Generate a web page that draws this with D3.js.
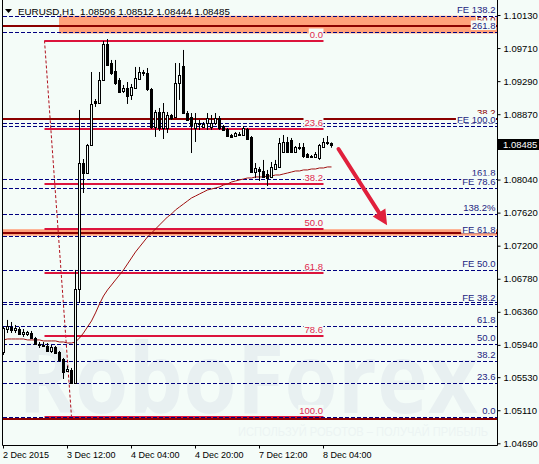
<!DOCTYPE html>
<html><head><meta charset="utf-8">
<script src="https://cdn.jsdelivr.net/npm/d3@7"></script>
<style>html,body{margin:0;padding:0;background:#f4fcf8;}svg{display:block;}</style>
</head><body><svg id="c" width="539" height="464"></svg>
<script>
// ---------------- DATA ----------------
const chartTitle = "EURUSD,H1  1.08506 1.08512 1.08444 1.08485";
const lastPrice = 1.08485;
const timeLabels = ["2 Dec 2015", "3 Dec 12:00", "4 Dec 04:00", "4 Dec 20:00", "7 Dec 12:00", "8 Dec 04:00"];
const timeLabelBars = [0, 16, 32, 48, 64, 80];
const priceTicks = [1.10130, 1.09710, 1.09290, 1.08870, 1.08040, 1.07620, 1.07200, 1.06780, 1.06360, 1.05940, 1.05530, 1.05110, 1.04690];

const open = [1.05850, 1.06142, 1.06168, 1.06130, 1.06142, 1.06079, 1.06079, 1.06091, 1.06028, 1.05952,
 1.05939, 1.05926, 1.05863, 1.05914, 1.05850, 1.05761, 1.05609, 1.05622, 1.05456, 1.06650,
 1.08250, 1.08123, 1.08479, 1.09038, 1.09012, 1.09305, 1.09762, 1.09520, 1.09419, 1.09305,
 1.09165, 1.09203, 1.09114, 1.09203, 1.09317, 1.09393, 1.09393, 1.09190, 1.08708, 1.08898,
 1.08695, 1.08695, 1.08860, 1.08835, 1.09266, 1.09482, 1.08885, 1.08835, 1.08695, 1.08746,
 1.08708, 1.08758, 1.08708, 1.08758, 1.08822, 1.08720, 1.08682, 1.08606, 1.08593, 1.08619,
 1.08606, 1.08682, 1.08581, 1.08136, 1.08174, 1.08149, 1.08111, 1.08073, 1.08174, 1.08200,
 1.08390, 1.08517, 1.08543, 1.08390, 1.08454, 1.08454, 1.08365, 1.08339, 1.08327, 1.08314,
 1.08454, 1.08517, 1.08506];
const high = [1.06168, 1.06257, 1.06231, 1.06193, 1.06168, 1.06142, 1.06117, 1.06117, 1.06041, 1.05977,
 1.05977, 1.05964, 1.05939, 1.05926, 1.05863, 1.05774, 1.05672, 1.05647, 1.06892, 1.08924,
 1.08301, 1.08492, 1.09406, 1.09063, 1.09406, 1.09800, 1.09825, 1.09559, 1.09559, 1.09330,
 1.09241, 1.09279, 1.09254, 1.09470, 1.09470, 1.09432, 1.09457, 1.09203, 1.08924, 1.08949,
 1.09012, 1.08898, 1.08873, 1.09520, 1.09520, 1.09686, 1.08911, 1.08885, 1.08885, 1.08797,
 1.08771, 1.08885, 1.08860, 1.08885, 1.08847, 1.08733, 1.08695, 1.08619, 1.08644, 1.08644,
 1.08720, 1.08695, 1.08593, 1.08250, 1.08200, 1.08289, 1.08162, 1.08263, 1.08289, 1.08568,
 1.08606, 1.08581, 1.08568, 1.08466, 1.08504, 1.08504, 1.08377, 1.08352, 1.08390, 1.08492,
 1.08568, 1.08593, 1.08512];
const low = [1.05812, 1.06091, 1.06091, 1.06091, 1.06066, 1.06041, 1.06053, 1.06015, 1.05939, 1.05901,
 1.05914, 1.05850, 1.05837, 1.05825, 1.05723, 1.05507, 1.05596, 1.05444, 1.05444, 1.06472,
 1.07869, 1.08111, 1.08466, 1.08962, 1.09000, 1.09292, 1.09482, 1.09368, 1.09241, 1.09139,
 1.09139, 1.09000, 1.09051, 1.09190, 1.09305, 1.09355, 1.09165, 1.08682, 1.08581, 1.08657,
 1.08555, 1.08631, 1.08797, 1.08822, 1.09051, 1.08873, 1.08784, 1.08377, 1.08517, 1.08670,
 1.08695, 1.08670, 1.08670, 1.08733, 1.08670, 1.08657, 1.08581, 1.08568, 1.08581, 1.08593,
 1.08593, 1.08543, 1.08123, 1.08060, 1.08022, 1.08060, 1.07958, 1.08060, 1.08162, 1.08200,
 1.08377, 1.08377, 1.08377, 1.08377, 1.08416, 1.08314, 1.08314, 1.08314, 1.08314, 1.08289,
 1.08441, 1.08479, 1.08444];
const close = [1.06155, 1.06180, 1.06130, 1.06155, 1.06079, 1.06104, 1.06104, 1.06028, 1.05952, 1.05939,
 1.05926, 1.05863, 1.05914, 1.05837, 1.05749, 1.05596, 1.05634, 1.05456, 1.06650, 1.08250,
 1.08123, 1.08479, 1.09000, 1.09012, 1.09305, 1.09762, 1.09495, 1.09393, 1.09266, 1.09152,
 1.09203, 1.09101, 1.09216, 1.09330, 1.09406, 1.09406, 1.09190, 1.08708, 1.08898, 1.08695,
 1.08898, 1.08860, 1.08822, 1.09266, 1.09368, 1.08885, 1.08797, 1.08733, 1.08758, 1.08758,
 1.08746, 1.08822, 1.08758, 1.08822, 1.08695, 1.08670, 1.08593, 1.08581, 1.08631, 1.08606,
 1.08695, 1.08555, 1.08136, 1.08187, 1.08149, 1.08073, 1.08060, 1.08200, 1.08238, 1.08504,
 1.08517, 1.08390, 1.08390, 1.08454, 1.08441, 1.08339, 1.08327, 1.08327, 1.08365, 1.08479,
 1.08517, 1.08504, 1.08485];
const movingAverage = [1.06003, 1.06015, 1.06015, 1.06015, 1.06015, 1.06015, 1.06003, 1.06003, 1.06003, 1.06003,
 1.05990, 1.05990, 1.05990, 1.05990, 1.05977, 1.05977, 1.05964, 1.05964, 1.05977, 1.06028,
 1.06091, 1.06168, 1.06244, 1.06346, 1.06460, 1.06561, 1.06638, 1.06701, 1.06765, 1.06828,
 1.06892, 1.06968, 1.07044, 1.07120, 1.07184, 1.07247, 1.07311, 1.07361, 1.07412, 1.07463,
 1.07514, 1.07565, 1.07603, 1.07654, 1.07692, 1.07730, 1.07768, 1.07806, 1.07831, 1.07857,
 1.07882, 1.07908, 1.07920, 1.07933, 1.07946, 1.07971, 1.07984, 1.08009, 1.08022, 1.08035,
 1.08047, 1.08060, 1.08060, 1.08073, 1.08073, 1.08073, 1.08085, 1.08085, 1.08098, 1.08098,
 1.08111, 1.08123, 1.08136, 1.08149, 1.08149, 1.08162, 1.08162, 1.08174, 1.08174, 1.08187,
 1.08187, 1.08200, 1.08200];

// Fibonacci retracement (red): 0% price, 100% price; anchor bars and end bar
const redFibAnchor = [1.09806, 1.05025];
const redFibBars = [10.25, 17, 80];
const redFibLevels = [0, 23.6, 38.2, 50, 61.8, 78.6, 100];
const redFibLabels = ["0.0", "23.6", "38.2", "50.0", "61.8", "78.6", "100.0"];
// Fibonacci retracement (dark red, solid)
const maroonFibAnchor = [1.04999, 1.14981];
const maroonFibLevels = [0, 23.6, 38.2, 50];
const maroonFibLabels = ["", "", "38.2", "50.0"];
// Fibonacci retracement (navy, dashed)
const navyFibAnchor = [1.05020, 1.06887];
const navyFibLevels = [0, 23.6, 38.2, 50, 61.8, 78.6, 100, 138.2, 161.8, 200, 261.8];
const navyFibLabels = ["0.0", "23.6", "38.2", "50.0", "61.8", "78.6", "100.0", "138.2%", "161.8", "", "261.8"];
// Fibonacci expansion (navy, dashed)
const feAnchor = [1.05062, 1.08720];
const feLevels = [38.2, 50, 61.8, 78.6, 100, 138.2];
const feLabels = ["FE 38.2", "FE 50.0", "FE 61.8", "FE 78.6", "FE 100.0", "FE 138.2"];
// target zones (rectangles): start bar, upper price, lower price
const zoneStartBars = [14, -1];
const zoneTopPrices = [1.10120, 1.07409];
const zoneBottomPrices = [1.09896, 1.07327];
// forecast arrow: [bar, price]
const arrowStart = [83.75, 1.08428];
const arrowEnd = [95.9, 1.07460];

// ---------------- DRAW ----------------
const W = 539, H = 464;
const BG = "#f4fcf8";
const FONT = "'Liberation Sans', Arial, sans-serif";
const DASH = "4,2";
const L = 3, R = 497.5, B = 445.5;
const svg = d3.select("#c");
const x = d3.scaleLinear().domain([0, 123.375]).range([3.5, 497]);
const y = d3.scaleLinear().domain([1.04690, 1.10130]).range([443.3, 15]);
const fibPrice = (a, lvl) => a[0] + (a[1] - a[0]) * lvl / 100;
const py1 = v => Math.round(y(v)) + 0.5;
const py2 = v => Math.round(y(v));

svg.append("rect").attr("width", W).attr("height", H).attr("fill", BG);

// watermark
const wm = svg.append("g");
wm.append("text").attr("x", 18).attr("y", 413).attr("font-family", "'Open Sans', Arial, sans-serif")
  .attr("font-weight", "bold").attr("font-size", 96).attr("fill", "#e8f0f1")
  .attr("textLength", 460).attr("lengthAdjust", "spacingAndGlyphs").text("RoboForex");
wm.append("text").attr("x", 238).attr("y", 436).attr("font-family", FONT)
  .attr("font-size", 12.5).attr("fill", "#ecf4f3")
  .attr("textLength", 250).attr("lengthAdjust", "spacingAndGlyphs").text("ИСПОЛЬЗУЙ РОБОТОВ – ПОЛУЧАЙ ПРИБЫЛЬ");

// zones
zoneStartBars.forEach((b, i) => {
  const x0 = Math.max(L, x(b) - 0.5);
  svg.append("rect").attr("x", x0).attr("width", R - x0)
    .attr("y", y(zoneTopPrices[i])).attr("height", y(zoneBottomPrices[i]) - y(zoneTopPrices[i]))
    .attr("fill", "#ffa07a");
});

function label(g, text, xr, yl, color) {
  if (!text) return;
  const gg = g.append("g");
  const r = gg.append("rect").attr("fill", BG);
  const t = gg.append("text").attr("x", xr).attr("y", yl - 3).attr("text-anchor", "end")
    .attr("font-family", FONT).attr("font-size", 9.5).attr("fill", color).text(text);
  const bb = t.node().getBBox();
  r.attr("x", bb.x - 1).attr("y", yl - 12).attr("width", bb.width + 1.5).attr("height", 9.5);
}

// maroon solid fib
const gM = svg.append("g");
maroonFibLevels.forEach((lv, i) => {
  const p = fibPrice(maroonFibAnchor, lv);
  gM.append("line").attr("x1", L).attr("x2", R).attr("y1", py2(p)).attr("y2", py2(p))
    .attr("stroke", "#8b0000").attr("stroke-width", 2);
  label(gM, maroonFibLabels[i], 495.5, y(p), "#8b0000");
});

// red fib lines
const gR = svg.append("g");
gR.append("line").attr("x1", x(redFibBars[0])).attr("y1", y(redFibAnchor[0]))
  .attr("x2", x(redFibBars[1])).attr("y2", y(redFibAnchor[1]))
  .attr("stroke", "#b0101c").attr("stroke-width", 1).attr("stroke-dasharray", "3,2");
redFibLevels.forEach((lv) => {
  const p = fibPrice(redFibAnchor, lv);
  gR.append("line").attr("x1", x(redFibBars[0])).attr("x2", x(redFibBars[2]))
    .attr("y1", py2(p)).attr("y2", py2(p)).attr("stroke", "#dc143c").attr("stroke-width", 2);
});

// navy fib
const gN = svg.append("g");
navyFibLevels.forEach((lv, i) => {
  const p = fibPrice(navyFibAnchor, lv);
  gN.append("line").attr("x1", L).attr("x2", R).attr("y1", py1(p)).attr("y2", py1(p))
    .attr("stroke", "#000080").attr("stroke-width", 1).attr("stroke-dasharray", DASH);
  label(gN, navyFibLabels[i], 495.5, y(p), "#1c1c80");
});

// FE
const gF = svg.append("g");
feLevels.forEach((lv, i) => {
  const p = fibPrice(feAnchor, lv);
  gF.append("line").attr("x1", L).attr("x2", R).attr("y1", py1(p)).attr("y2", py1(p))
    .attr("stroke", "#000080").attr("stroke-width", 1).attr("stroke-dasharray", DASH);
  label(gF, feLabels[i], 495.5, y(p), "#1c1c80");
});

// red fib labels (on top)
const gRL = svg.append("g");
redFibLevels.forEach((lv, i) => {
  const p = fibPrice(redFibAnchor, lv);
  label(gRL, redFibLabels[i], x(redFibBars[2]) - 0.5, y(p), "#e0284e");
});

// moving average
svg.append("path").datum(movingAverage)
  .attr("d", d3.line().x((d, i) => x(i)).y(d => y(d)))
  .attr("fill", "none").attr("stroke", "#a01010").attr("stroke-width", 1);

// candles
const gc = svg.append("g");
open.forEach((o, i) => {
  const c = close[i];
  const xc = Math.floor(x(i)) + 0.5;
  gc.append("line").attr("x1", xc).attr("x2", xc).attr("y1", y(high[i])).attr("y2", y(low[i]))
    .attr("stroke", "#000").attr("stroke-width", 1);
  const top = Math.round(y(Math.max(o, c))) + 0.5;
  const bot = Math.round(y(Math.min(o, c))) + 0.5;
  if (bot - top < 0.5) {
    gc.append("line").attr("x1", xc - 1.5).attr("x2", xc + 1.5).attr("y1", top).attr("y2", top)
      .attr("stroke", "#000");
  } else {
    gc.append("rect").attr("x", xc - 1).attr("width", 2).attr("y", top).attr("height", bot - top)
      .attr("fill", c >= o ? BG : "#000").attr("stroke", "#000").attr("stroke-width", 1);
  }
});

// arrow
const ax0 = x(arrowStart[0]), ay0 = y(arrowStart[1]);
const ax1 = x(arrowEnd[0]), ay1 = y(arrowEnd[1]);
const ang = Math.atan2(ay1 - ay0, ax1 - ax0);
const headLen = 15, headW = 7.5;
const bx = ax1 - headLen * Math.cos(ang), by = ay1 - headLen * Math.sin(ang);
svg.append("line").attr("x1", ax0).attr("y1", ay0).attr("x2", bx).attr("y2", by)
  .attr("stroke", "#e0203c").attr("stroke-width", 4).attr("stroke-linecap", "round");
svg.append("path").attr("d", `M${ax1},${ay1}L${bx + headW * Math.sin(ang)},${by - headW * Math.cos(ang)}L${bx - headW * Math.sin(ang)},${by + headW * Math.cos(ang)}Z`)
  .attr("fill", "#e0203c");

// frame
svg.append("path").attr("d", `M${L - 0.5},0V${B}H${R}V0`).attr("fill", "none").attr("stroke", "#000").attr("stroke-width", 1);

// y axis
const ya = svg.append("g").attr("transform", `translate(${R},0)`)
  .call(d3.axisRight(y).tickValues(priceTicks).tickSize(3).tickPadding(3).tickFormat(d3.format(".5f")));
ya.select(".domain").remove();
ya.selectAll("text").attr("font-family", FONT).attr("font-size", 9.5).attr("fill", "#000");
ya.selectAll("line").attr("stroke", "#000");

// current price label
const cp = svg.append("g");
cp.append("rect").attr("x", 498).attr("y", Math.round(y(lastPrice)) - 6).attr("width", 41).attr("height", 11).attr("fill", "#000");
cp.append("text").attr("x", 503).attr("y", y(lastPrice) + 3.5).attr("font-family", FONT).attr("font-size", 9.5)
  .attr("fill", "#fff").text(d3.format(".5f")(lastPrice));

// x axis
const xa = svg.append("g").attr("transform", `translate(0,${B})`)
  .call(d3.axisBottom(x).tickValues(timeLabelBars).tickSize(3).tickFormat((d, i) => timeLabels[i]));
xa.select(".domain").remove();
xa.selectAll("line").attr("stroke", "#000").attr("transform", "translate(-0.5,0)");
xa.selectAll("text").attr("font-family", FONT).attr("font-size", 9).attr("fill", "#000")
  .attr("text-anchor", "start").attr("dy", 0).attr("y", 12.5).attr("x", -1);

// title
svg.append("path").attr("d", "M5,9H12L8.5,13Z").attr("fill", "#000");
svg.append("text").attr("x", 18).attr("y", 14.5).attr("font-family", FONT).attr("font-size", 9.8)
  .attr("fill", "#000").attr("xml:space", "preserve").style("white-space", "pre").text(chartTitle);
</script></body></html>
